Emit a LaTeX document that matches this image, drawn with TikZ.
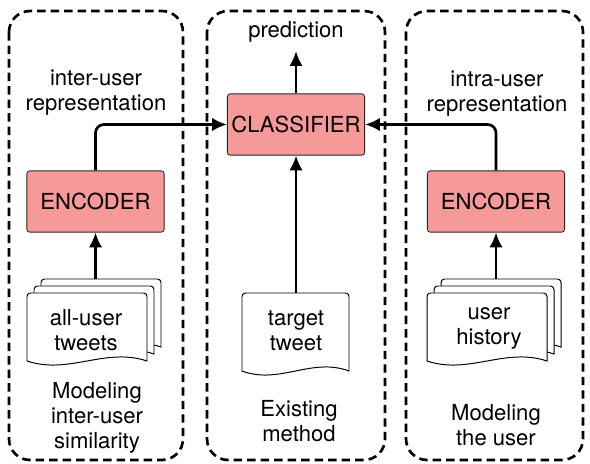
\documentclass[tikz,border=0pt]{standalone}
\usepackage{fontspec}
\setmainfont{TeX Gyre Heros}
\definecolor{boxpink}{RGB}{246, 153, 153}
\usetikzlibrary{arrows.meta, positioning}

% one page of tweets, wavy bottom: x, y (top left), width, height
\newcommand{\tweetpage}[4]{%
  \draw[page] (#1,#2+#4) [rounded corners=2.5pt] -- (#1,#2) -- (#1+#3,#2) [sharp corners] -- (#1+#3,#2+#4)
    .. controls (#1+0.65*#3,#2+#4-14) and (#1+0.35*#3,#2+#4+14) .. (#1,#2+#4) -- cycle;}

\tikzset{
  group/.style={draw, line width=1.9pt, dash pattern=on 6pt off 3.6pt, rounded corners=15pt},
  block/.style={draw=black!85, fill=boxpink, rounded corners=2pt, line width=0.6pt,
    minimum width=3.43cm, minimum height=1.53cm, inner sep=0pt, font=\fontsize{15.7}{18}\selectfont},
  txt/.style={align=center, inner sep=0pt, font=\fontsize{15.7}{17.8}\selectfont},
  page/.style={draw, fill=white, line width=0.7pt},
  flow/.style={-{Latex[length=10.5pt, width=9.5pt]}, line width=1.9pt}
}

\begin{document}
\begin{tikzpicture}[x=0.025cm, y=-0.025cm]
  \useasboundingbox (0,0) rectangle (590,464);

  % the three groups
  \draw[group] (9,11) rectangle (183,460);
  \draw[group] (207,11) rectangle (385,460);
  \draw[group] (406,11) rectangle (583,460);

  % boxes
  \node[block] (enc1) at (95.5,201.5) {ENCODER};
  \node[block] (clf) at (296,124.5) {CLASSIFIER};
  \node[block] (enc2) at (496,201.5) {ENCODER};

  \node[txt] (pred) at (296,32) {prediction};
  \node[txt] (interrep) at (96,93) {inter-user\\representation};
  \node[txt] (intrarep) at (497,94) {intra-user\\representation};

  % tweet pages
  \tweetpage{41}{279}{120}{68}
  \tweetpage{34}{286}{120}{68}
  \tweetpage{27}{293}{120}{68}
  \tweetpage{242}{293}{107}{78}
  \tweetpage{441}{279}{120}{68}
  \tweetpage{434}{286}{120}{68}
  \tweetpage{427}{293}{120}{68}

  \node[txt] (alltweets) at (86,330) {all-user\\tweets};
  \node[txt] (target) at (296,331) {target\\tweet};
  \node[txt] (history) at (489,328) {user\\history};

  \coordinate (alltop) at (95.5,279);
  \coordinate (targettop) at (296,293);
  \coordinate (histtop) at (496,279);

  % captions
  \node[txt] (leftcap) at (97,418) {Modeling\\inter-user\\similarity};
  \node[txt] (midcap) at (299,421) {Existing\\method};
  \node[txt] (rightcap) at (496,425) {Modeling\\the user};

  % connectors
  \draw[flow] (alltop) -- (enc1.south);
  \draw[flow] (histtop) -- (enc2.south);
  \draw[flow] (targettop) -- (clf.south);
  \draw[flow, rounded corners=6pt] (enc1.north) |- (clf.west);
  \draw[flow, rounded corners=6pt] (enc2.north) |- (clf.east);
  \draw[flow] (clf.north) -- ([yshift=-6pt]pred.south);
\end{tikzpicture}
\end{document}
